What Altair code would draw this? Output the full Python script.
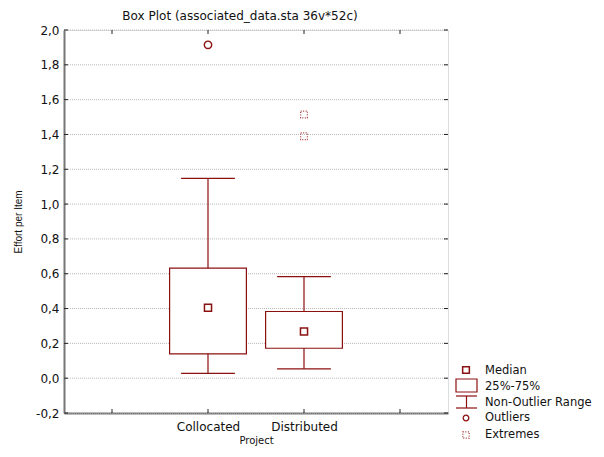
import altair as alt
import pandas as pd

# ---- data ----
projects = ["Collocated", "Distributed"]
positions = [2, 3]
medians = [0.405, 0.268]
q1 = [0.14, 0.172]
q3 = [0.632, 0.383]
whisker_low = [0.028, 0.054]
whisker_high = [1.148, 0.583]
outlier_project = ["Collocated"]
outlier_values = [1.915]
extreme_project = ["Distributed", "Distributed"]
extreme_values = [1.515, 1.39]
y_ticks = [-0.2, 0.0, 0.2, 0.4, 0.6, 0.8, 1.0, 1.2, 1.4, 1.6, 1.8, 2.0]
x_ticks = [1, 2, 3, 4]
legend_labels = ["Median", "25%-75%", "Non-Outlier Range", "Outliers", "Extremes"]

W, H = 384, 383
RED = "#8b1010"
BOX_HALF = 0.4
CAP_HALF = 0.28

pos_of = dict(zip(projects, positions))
box = pd.DataFrame({
    "project": projects, "pos": positions, "median": medians,
    "q1": q1, "q3": q3, "lo": whisker_low, "hi": whisker_high,
})
box["bx1"] = box["pos"] - BOX_HALF
box["bx2"] = box["pos"] + BOX_HALF
box["cx1"] = box["pos"] - CAP_HALF
box["cx2"] = box["pos"] + CAP_HALF

outl = pd.DataFrame({"pos": [pos_of[p] for p in outlier_project], "v": outlier_values})
extr = pd.DataFrame({"pos": [pos_of[p] for p in extreme_project], "v": extreme_values})
yt = pd.DataFrame({"v": y_ticks})
xt = pd.DataFrame({"v": x_ticks})

xs = alt.Scale(domain=[0.5, 4.5], nice=False, zero=False)
ys = alt.Scale(domain=[-0.2, 2.0], nice=False, zero=False)

x_axis = alt.Axis(
    values=x_ticks,
    labelExpr="datum.value == 2 ? 'Collocated' : datum.value == 3 ? 'Distributed' : ''",
    ticks=False, grid=False, labelOverlap=False, labelFont="DejaVu Sans", labelFontSize=12,
    labelColor="#111", labelPadding=8, labelAngle=0,
    title="Project", titleFont="DejaVu Sans", titleFontSize=10,
    titleFontWeight="normal", titleColor="#111", titlePadding=3,
    domainColor="#777", domainWidth=2,
)
y_axis = alt.Axis(
    values=y_ticks,
    labelExpr="replace(replace(format(datum.value, '.1f'), '.', ','), '\u2212', '-')",
    ticks=False, grid=False, labelOverlap=False, labelBound=False,
    labelFont="DejaVu Sans", labelFontSize=12, labelColor="#111", labelPadding=5,
    title="Effort per Item", titleFont="Liberation Sans", titleFontSize=10,
    titleFontWeight="normal", titleColor="#111", titlePadding=12,
    domainColor="#777", domainWidth=2,
)

def X(f):
    return alt.X(f, scale=xs, axis=x_axis)

def Y(f):
    return alt.Y(f, scale=ys, axis=y_axis)

base = alt.Chart(box)

# dotted horizontal grid lines
grid = alt.Chart(yt).mark_rule(color="#b8b8b8", strokeWidth=1, strokeDash=[1, 1]).encode(
    y=Y("v:Q"), x=alt.value(0), x2=alt.value(W))

whisk = base.mark_rule(color=RED, strokeWidth=1.2).encode(
    x=X("pos:Q"), y=Y("lo:Q"), y2="hi:Q")
cap_hi = base.mark_rule(color=RED, strokeWidth=1.2).encode(
    x=X("cx1:Q"), x2="cx2:Q", y=Y("hi:Q"))
cap_lo = base.mark_rule(color=RED, strokeWidth=1.2).encode(
    x=X("cx1:Q"), x2="cx2:Q", y=Y("lo:Q"))
rect = base.mark_rect(fill="white", stroke=RED, strokeWidth=1.2).encode(
    x=X("bx1:Q"), x2="bx2:Q", y=Y("q1:Q"), y2="q3:Q")
med = base.mark_square(size=50, filled=False, fill="white", fillOpacity=1,
                       stroke=RED, strokeWidth=1.5, opacity=1).encode(
    x=X("pos:Q"), y=Y("median:Q"))
out = alt.Chart(outl).mark_point(shape="circle", size=55, filled=False,
                                 stroke=RED, strokeWidth=1.4, opacity=1).encode(
    x=X("pos:Q"), y=Y("v:Q"))
ext = alt.Chart(extr).mark_square(size=45, filled=False, stroke="#a83a3a",
                                  strokeWidth=1.2, strokeDash=[1, 1.5], opacity=1).encode(
    x=X("pos:Q"), y=Y("v:Q"))

# inner ticks on all four sides
tk = dict(color="#222", strokeWidth=1)
t_left = alt.Chart(yt).mark_rule(**tk).encode(
    y=Y("v:Q"), x=alt.value(0), x2=alt.value(4))
t_right = alt.Chart(yt).mark_rule(**tk).encode(
    y=Y("v:Q"), x=alt.value(W), x2=alt.value(W - 4))
t_bot = alt.Chart(xt).mark_rule(**tk).encode(
    x=X("v:Q"), y=alt.value(H), y2=alt.value(H - 4))
t_top = alt.Chart(xt).mark_rule(**tk).encode(
    x=X("v:Q"), y=alt.value(0), y2=alt.value(4))

# ---- manual legend (outside the plot, on the right) ----
lg = pd.DataFrame({"label": legend_labels})
LX = 402
lg_med = alt.Chart(lg.iloc[[0]]).mark_square(size=45, filled=False, stroke=RED,
                                              strokeWidth=1.5, opacity=1).encode(
    x=alt.value(LX), y=alt.value(340))
lg_box = alt.Chart(lg.iloc[[1]]).mark_rect(fill="white", stroke=RED, strokeWidth=1.2).encode(
    x=alt.value(392), x2=alt.value(413), y=alt.value(349), y2=alt.value(362))
lg_w1 = alt.Chart(lg.iloc[[2]]).mark_rule(color=RED, strokeWidth=1.2).encode(
    x=alt.value(392), x2=alt.value(413), y=alt.value(366))
lg_w2 = alt.Chart(lg.iloc[[2]]).mark_rule(color=RED, strokeWidth=1.2).encode(
    x=alt.value(392), x2=alt.value(413), y=alt.value(378))
lg_w3 = alt.Chart(lg.iloc[[2]]).mark_rule(color=RED, strokeWidth=1.2).encode(
    x=alt.value(LX + 0.5), y=alt.value(366), y2=alt.value(378))
lg_out = alt.Chart(lg.iloc[[3]]).mark_point(shape="circle", size=32, filled=False,
                                             stroke=RED, strokeWidth=1.3, opacity=1).encode(
    x=alt.value(LX), y=alt.value(388))
lg_ext = alt.Chart(lg.iloc[[4]]).mark_square(size=40, filled=False, stroke="#a83a3a",
                                              strokeWidth=1.2, strokeDash=[1, 1.5], opacity=1).encode(
    x=alt.value(LX), y=alt.value(405))
lg_text_layers = []
for i, yv in enumerate([341, 357, 373, 388, 405]):
    lg_text_layers.append(
        alt.Chart(lg.iloc[[i]]).mark_text(
            align="left", baseline="middle", font="DejaVu Sans", fontSize=11.5, color="#111"
        ).encode(x=alt.value(421), y=alt.value(yv), text="label:N")
    )

chart = alt.layer(
    grid, whisk, cap_hi, cap_lo, rect, med, out, ext,
    t_left, t_right, t_bot, t_top,
    lg_med, lg_box, lg_w1, lg_w2, lg_w3, lg_out, lg_ext, *lg_text_layers,
).properties(
    width=W, height=H,
    title=alt.TitleParams(
        "Box Plot (associated_data.sta 36v*52c)", font="DejaVu Sans", fontSize=12,
        fontWeight="normal", color="#111", anchor="middle", offset=1, dx=-16,
    ),
    autosize=alt.AutoSizeParams(type="none"),
    padding={"left": 56, "top": 22, "right": 148, "bottom": 36},
).configure_view(stroke="#222", strokeWidth=1).configure(background="white")

chart.save("out.html", embed_options={"renderer": "svg", "actions": False})
